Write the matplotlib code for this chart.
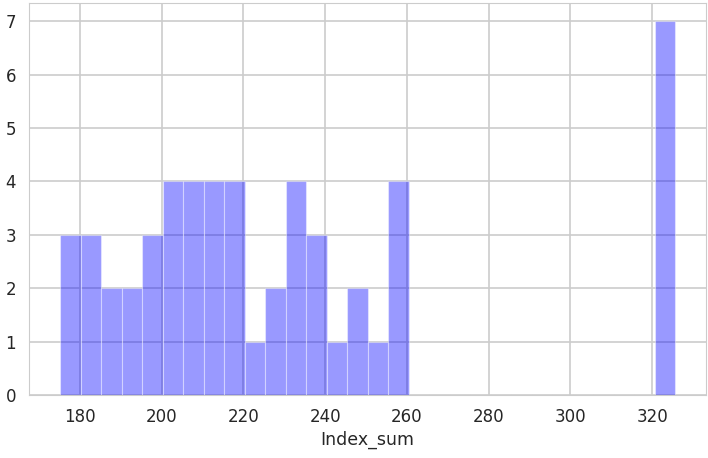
import numpy as np
import matplotlib
matplotlib.use('Agg')
import matplotlib.pyplot as plt
import seaborn as sns

# histogram of Index_sum, 30 bins between min and max
x_min = 175.2
x_max = 325.6
counts = [3, 3, 2, 2, 3, 4, 4, 4, 4, 1, 2, 4, 3, 1, 2, 1, 4,
          0, 0, 0, 0, 0, 0, 0, 0, 0, 0, 0, 0, 7]
xlabel = 'Index_sum'

sns.set_style('whitegrid')
plt.rcParams['font.family'] = ['DejaVu Sans']

edges = np.linspace(x_min, x_max, len(counts) + 1)
widths = np.diff(edges)

fig = plt.figure(figsize=(7.08, 4.58), dpi=100)
ax = fig.add_axes([0.0415, 0.1376, 0.9555, 0.8565])
ax.bar(edges[:-1], counts, width=widths, align='edge', color='blue', alpha=0.4,
       edgecolor='white', linewidth=0.8)
ax.set_xlim(x_min - 0.05 * (x_max - x_min), x_max + 0.05 * (x_max - x_min))
ax.set_ylim(0, max(counts) * 1.05)
ax.set_xticks(np.arange(180, 340, 20))
ax.set_yticks(np.arange(0, 8, 1))
ax.tick_params(labelsize=12, colors='#262626', pad=6)
ax.set_xlabel(xlabel, fontsize=12.5, color='#262626', labelpad=3)
for s in ax.spines.values():
    s.set_color('#cccccc')
ax.grid(color='#cccccc', linewidth=1.2)

fig.savefig('out.png', dpi=100)
